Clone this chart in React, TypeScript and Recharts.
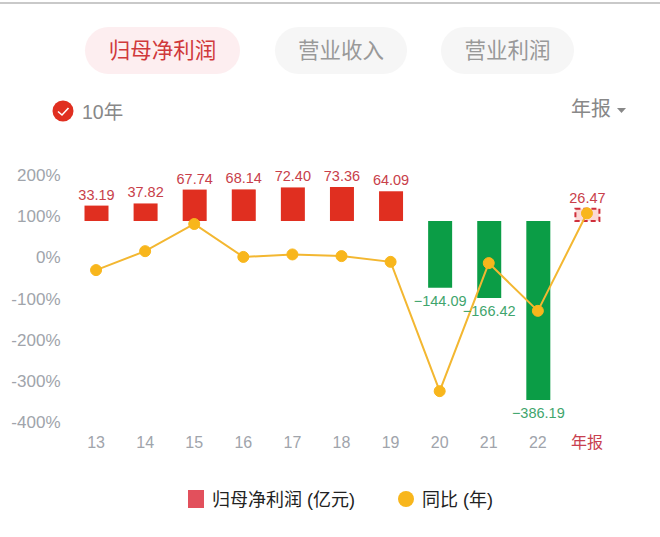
import { Bar, Cell, ComposedChart, LabelList, Line, XAxis, YAxis } from "recharts";

const CATEGORIES = ["13", "14", "15", "16", "17", "18", "19", "20", "21", "22", "年报"];
const PROFIT = [33.19, 37.82, 67.74, 68.14, 72.4, 73.36, 64.09, -144.09, -166.42, -386.19, 26.47];
const YOY = [-31, 15, 81, 1, 7, 3, -11, -325, -14, -130, 107];
const RATE_TICKS = [200, 100, 0, -100, -200, -300, -400];
const TABS = ["归母净利润", "营业收入", "营业利润"];

const chartData = CATEGORIES.map((name, i) => ({ name, profit: PROFIT[i], yoy: YOY[i] }));

const FONT = '"Liberation Sans", "Noto Sans CJK SC", sans-serif';
const RED = "#e02f20";
const GREEN = "#0b9d46";
const LAST = CATEGORIES.length - 1;

const barFill = (value: number, index: number) => {
  if (index === LAST) return "#fbd9d6";
  return value >= 0 ? RED : GREEN;
};

const XTick = ({ x, y, payload }: any) => (
  <text x={x} y={y} dy={18} textAnchor="middle" fontSize={16} fontFamily={FONT} fill={payload.value === "年报" ? "#c8404f" : "#a0a4ab"}>
    {payload.value}
  </text>
);

const ProfitLabel = ({ x, y, width, height, value }: any) => {
  const top = Math.min(y, y + height);
  const bottom = Math.max(y, y + height);
  const positive = value >= 0;
  return (
    <text
      x={x + width / 2}
      y={positive ? top - 6 : bottom + 18}
      textAnchor="middle"
      fontSize={14.5}
      fontFamily={FONT}
      fill={positive ? "#c8404a" : "#3fa56d"}
    >
      {value < 0 ? `−${Math.abs(value).toFixed(2)}` : value.toFixed(2)}
    </text>
  );
};

const Tab = ({ label, active, left, width }: { label: string; active: boolean; left: number; width: number }) => (
  <div
    style={{
      position: "absolute",
      left,
      top: 27,
      width,
      height: 47,
      borderRadius: 24,
      background: active ? "#fdeef0" : "#f6f6f6",
      color: active ? "#d0393b" : "#999",
      fontSize: 21.5,
      lineHeight: "49px",
      textAlign: "center",
    }}
  >
    {label}
  </div>
);

export default function App() {
  return (
    <div style={{ position: "absolute", left: 0, top: 0, width: 660, height: 537, background: "#fff", fontFamily: FONT, overflow: "hidden" }}>
      <div style={{ position: "absolute", left: 0, top: 2, width: 660, height: 2, background: "#c9c9c9" }} />
      <Tab label={TABS[0]} active left={85} width={155} />
      <Tab label={TABS[1]} active={false} left={275} width={132} />
      <Tab label={TABS[2]} active={false} left={441} width={133} />

      <svg style={{ position: "absolute", left: 52, top: 100 }} width={22} height={22}>
        <circle cx={11} cy={11} r={10.5} fill={RED} />
        <path d="M6 11.5 L10 15 L16.5 8" fill="none" stroke="#fff" strokeWidth={1.6} />
      </svg>
      <div style={{ position: "absolute", left: 82, top: 98, fontSize: 19.5, lineHeight: "28px", color: "#888" }}>10年</div>
      <div style={{ position: "absolute", left: 571, top: 95, fontSize: 20, lineHeight: "28px", color: "#888" }}>年报</div>
      <svg style={{ position: "absolute", left: 617, top: 108 }} width={10} height={6}>
        <path d="M0 0 L9 0 L4.5 5 Z" fill="#888" />
      </svg>

      <ComposedChart
        width={660}
        height={537}
        data={chartData}
        margin={{ top: 175, right: 48.5, bottom: 85, left: 0 }}
        style={{ position: "absolute", left: 0, top: 0 }}
      >
        <XAxis dataKey="name" axisLine={false} tickLine={false} height={30} interval={0} tick={<XTick />} />
        <YAxis
          yAxisId="rate"
          width={71.5}
          domain={[-400, 200]}
          ticks={RATE_TICKS}
          interval={0}
          axisLine={false}
          tickLine={false}
          tickMargin={5}
          tick={{ fill: "#a0a4ab", fontSize: 17, fontFamily: FONT }}
          tickFormatter={(v: number) => `${v}%`}
        />
        <YAxis yAxisId="profit" orientation="right" hide domain={[-433.7, 99.2]} />
        <Bar yAxisId="profit" dataKey="profit" barSize={24} isAnimationActive={false}>
          {chartData.map((d, i) => (
            <Cell
              key={d.name}
              fill={barFill(d.profit, i)}
              stroke={i === LAST ? "#cf2f3b" : "none"}
              strokeDasharray={i === LAST ? "5 3" : undefined}
              strokeWidth={i === LAST ? 2 : 0}
            />
          ))}
          <LabelList dataKey="profit" content={<ProfitLabel />} />
        </Bar>
        <Line
          yAxisId="rate"
          dataKey="yoy"
          stroke="#f3b731"
          strokeWidth={2}
          dot={{ r: 5.5, fill: "#f8b61c", stroke: "#f8b61c", strokeWidth: 1 }}
          isAnimationActive={false}
        />
      </ComposedChart>

      <div style={{ position: "absolute", left: 188, top: 490, width: 16, height: 18, background: "#e2505c" }} />
      <div style={{ position: "absolute", left: 212, top: 487, fontSize: 18, lineHeight: "26px", color: "#222", whiteSpace: "nowrap" }}>归母净利润 (亿元)</div>
      <div style={{ position: "absolute", left: 398, top: 491, width: 16, height: 16, borderRadius: 8, background: "#f8b61c" }} />
      <div style={{ position: "absolute", left: 422, top: 487, fontSize: 18, lineHeight: "26px", color: "#222", whiteSpace: "nowrap" }}>同比 (年)</div>
    </div>
  );
}
